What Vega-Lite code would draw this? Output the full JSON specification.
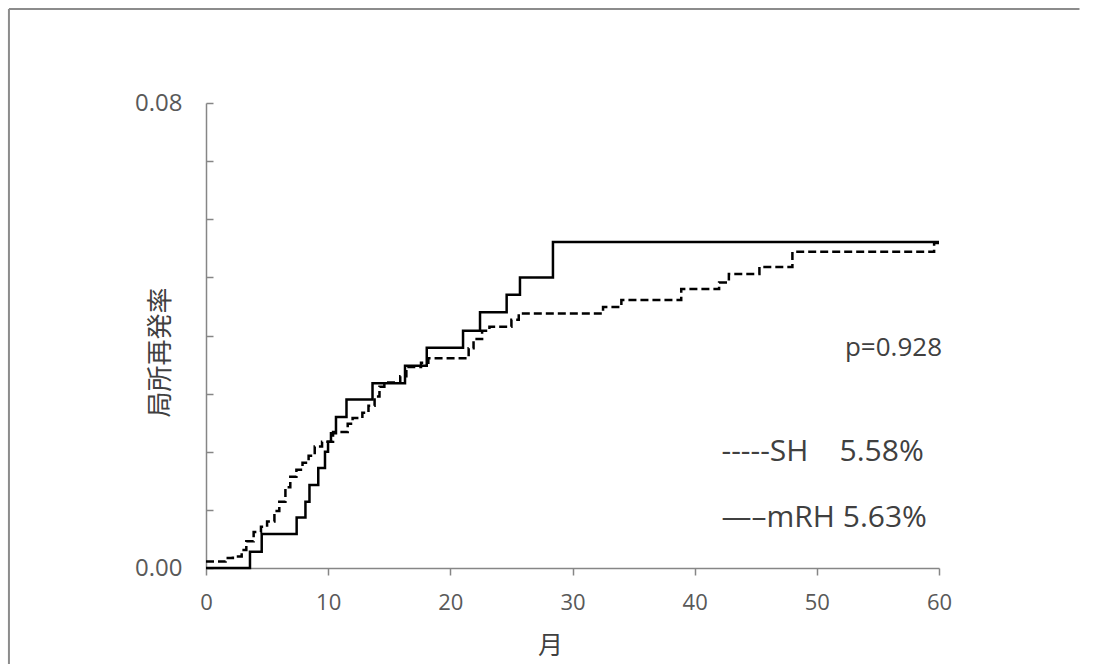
{
  "$schema": "https://vega.github.io/schema/vega-lite/v6.json",
  "autosize": "none",
  "width": 733,
  "height": 465,
  "padding": {"left": 206, "top": 103, "right": 166, "bottom": 96},
  "background": "white",
  "config": {"view": {"stroke": null}, "font": "Open Sans"},
  "datasets": {
    "curves": [
      {"group": "mRH", "t": 0, "v": 0},
      {"group": "mRH", "t": 3.6, "v": 0.0028},
      {"group": "mRH", "t": 4.56, "v": 0.00585},
      {"group": "mRH", "t": 7.42, "v": 0.0087},
      {"group": "mRH", "t": 8.14, "v": 0.0114},
      {"group": "mRH", "t": 8.47, "v": 0.0143},
      {"group": "mRH", "t": 9.19, "v": 0.0172},
      {"group": "mRH", "t": 9.74, "v": 0.02},
      {"group": "mRH", "t": 9.99, "v": 0.0217},
      {"group": "mRH", "t": 10.23, "v": 0.0232},
      {"group": "mRH", "t": 10.64, "v": 0.026},
      {"group": "mRH", "t": 11.5, "v": 0.029},
      {"group": "mRH", "t": 13.63, "v": 0.0318},
      {"group": "mRH", "t": 16.29, "v": 0.0348},
      {"group": "mRH", "t": 18.07, "v": 0.0379},
      {"group": "mRH", "t": 21.04, "v": 0.0408},
      {"group": "mRH", "t": 22.43, "v": 0.044},
      {"group": "mRH", "t": 24.61, "v": 0.047},
      {"group": "mRH", "t": 25.7, "v": 0.05},
      {"group": "mRH", "t": 28.4, "v": 0.0561},
      {"group": "mRH", "t": 60, "v": 0.0561},
      {"group": "SH", "t": 0, "v": 0.0011},
      {"group": "SH", "t": 1.6, "v": 0.0017},
      {"group": "SH", "t": 2.2, "v": 0.002},
      {"group": "SH", "t": 2.92, "v": 0.0031},
      {"group": "SH", "t": 3.3, "v": 0.0046},
      {"group": "SH", "t": 3.9, "v": 0.0062},
      {"group": "SH", "t": 4.5, "v": 0.0071},
      {"group": "SH", "t": 5.0, "v": 0.008},
      {"group": "SH", "t": 5.6, "v": 0.0098},
      {"group": "SH", "t": 6.0, "v": 0.0114},
      {"group": "SH", "t": 6.5, "v": 0.0139},
      {"group": "SH", "t": 6.9, "v": 0.0157},
      {"group": "SH", "t": 7.4, "v": 0.0169},
      {"group": "SH", "t": 7.9, "v": 0.0181},
      {"group": "SH", "t": 8.4, "v": 0.0193},
      {"group": "SH", "t": 8.9, "v": 0.0209},
      {"group": "SH", "t": 9.5, "v": 0.0217},
      {"group": "SH", "t": 10.4, "v": 0.0234},
      {"group": "SH", "t": 11.6, "v": 0.0248},
      {"group": "SH", "t": 12.0, "v": 0.0258},
      {"group": "SH", "t": 12.8, "v": 0.0267},
      {"group": "SH", "t": 13.3, "v": 0.0279},
      {"group": "SH", "t": 13.8, "v": 0.0295},
      {"group": "SH", "t": 14.2, "v": 0.0312},
      {"group": "SH", "t": 14.6, "v": 0.0319},
      {"group": "SH", "t": 15.9, "v": 0.033},
      {"group": "SH", "t": 16.4, "v": 0.0346},
      {"group": "SH", "t": 17.6, "v": 0.0353},
      {"group": "SH", "t": 18.2, "v": 0.0361},
      {"group": "SH", "t": 21.5, "v": 0.0378},
      {"group": "SH", "t": 21.9, "v": 0.0394},
      {"group": "SH", "t": 22.6, "v": 0.0408},
      {"group": "SH", "t": 23.2, "v": 0.0415},
      {"group": "SH", "t": 25.0, "v": 0.0427},
      {"group": "SH", "t": 25.6, "v": 0.0438},
      {"group": "SH", "t": 32.5, "v": 0.0449},
      {"group": "SH", "t": 34.0, "v": 0.0461},
      {"group": "SH", "t": 38.9, "v": 0.048},
      {"group": "SH", "t": 42.0, "v": 0.0491},
      {"group": "SH", "t": 42.8, "v": 0.0506},
      {"group": "SH", "t": 45.3, "v": 0.0518},
      {"group": "SH", "t": 48.0, "v": 0.0544},
      {"group": "SH", "t": 59.6, "v": 0.0559},
      {"group": "SH", "t": 60, "v": 0.0559}
    ],
    "notes": [
      {"kind": "p", "label": "p=0.928", "t": 52.3, "v": 0.0379},
      {"kind": "legend", "label": "-----SH\u00a0\u00a0\u00a0\u00a05.58%", "t": 42.2, "v": 0.02},
      {"kind": "legend", "label": "—–mRH 5.63%", "t": 42.2, "v": 0.0086}
    ],
    "frame": [
      {"t0": -16.13, "t1": 71.5, "v0": 0.09617, "v1": 0.09617},
      {"t0": -16.13, "t1": -16.13, "v0": 0.09617, "v1": -0.0165}
    ]
  },
  "encoding": {
    "x": {
      "type": "quantitative",
      "scale": {"domain": [0, 60], "nice": false},
      "axis": {
        "values": [0, 10, 20, 30, 40, 50, 60],
        "title": "月",
        "titleFont": "Noto Sans CJK JP",
        "titleFontSize": 25,
        "titleFontWeight": "normal",
        "titleColor": "#404040",
        "titleX": 344,
        "titleY": 77,
        "titleBaseline": "middle",
        "labelFont": "Open Sans",
        "labelFontSize": 22,
        "labelColor": "#595959",
        "labelPadding": 17,
        "labelFlush": false,
        "tickSize": 7,
        "tickColor": "#868686",
        "tickWidth": 1.5,
        "domainColor": "#868686",
        "domainWidth": 1.5,
        "grid": false
      }
    },
    "y": {
      "type": "quantitative",
      "scale": {"domain": [0, 0.08], "nice": false},
      "axis": {
        "values": [0, 0.01, 0.02, 0.03, 0.04, 0.05, 0.06, 0.07, 0.08],
        "labelExpr": "datum.value == 0 || datum.value == 0.08 ? format(datum.value, '.2f') : ''",
        "title": "局所再発率",
        "titleFont": "Noto Sans CJK JP",
        "titleFontSize": 26,
        "titleFontWeight": "normal",
        "titleColor": "#404040",
        "titleX": -46,
        "titleY": 249,
        "titleBaseline": "middle",
        "titleAlign": "center",
        "labelFont": "Open Sans",
        "labelFontSize": 24,
        "labelColor": "#595959",
        "labelPadding": 31,
        "tickSize": -7,
        "tickColor": "#868686",
        "tickWidth": 1.5,
        "domainColor": "#868686",
        "domainWidth": 1.5,
        "grid": false
      }
    }
  },
  "layer": [
    {
      "data": {"name": "curves"},
      "mark": {"type": "line", "interpolate": "step-after", "color": "black", "strokeWidth": 2.5},
      "encoding": {
        "x": {"field": "t", "type": "quantitative"},
        "y": {"field": "v", "type": "quantitative"},
        "strokeDash": {
          "field": "group", "type": "nominal",
          "scale": {"domain": ["SH", "mRH"], "range": [[8, 4], [1, 0]]},
          "legend": null
        }
      }
    },
    {
      "data": {"name": "frame"},
      "mark": {"type": "rule", "color": "#8c8c8c", "strokeWidth": 2},
      "encoding": {
        "x": {"field": "t0", "type": "quantitative"},
        "x2": {"field": "t1"},
        "y": {"field": "v0", "type": "quantitative"},
        "y2": {"field": "v1"}
      }
    },
    {
      "data": {"name": "notes"},
      "transform": [{"filter": "datum.kind == 'p'"}],
      "mark": {"type": "text", "align": "left", "baseline": "middle", "font": "Open Sans", "fontSize": 26, "color": "#404040"},
      "encoding": {
        "x": {"field": "t", "type": "quantitative"},
        "y": {"field": "v", "type": "quantitative"},
        "text": {"field": "label"}
      }
    },
    {
      "data": {"name": "notes"},
      "transform": [{"filter": "datum.kind == 'legend'"}],
      "mark": {"type": "text", "align": "left", "baseline": "middle", "font": "Open Sans", "fontSize": 30, "color": "#404040"},
      "encoding": {
        "x": {"field": "t", "type": "quantitative"},
        "y": {"field": "v", "type": "quantitative"},
        "text": {"field": "label"}
      }
    }
  ]
}
